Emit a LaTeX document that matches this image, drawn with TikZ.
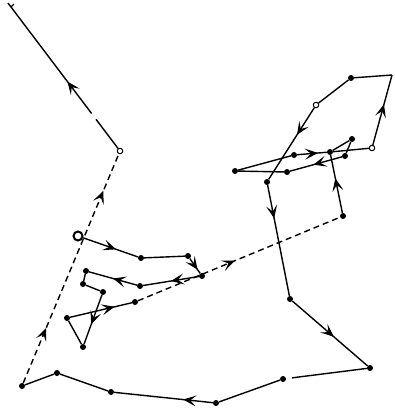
\documentclass[tikz,border=0pt]{standalone}
\usetikzlibrary{arrows.meta,decorations.markings,calc}
\tikzset{
  dot/.style={circle,fill=black,inner sep=0pt,minimum size=6pt},
  odot/.style={circle,draw=black,fill=white,line width=1pt,inner sep=0pt,minimum size=5.5pt},
  bigodot/.style={circle,draw=black,fill=white,line width=2pt,inner sep=0pt,minimum size=9pt},
  seg/.style={line width=1.4pt},
  jump/.style={line width=1.4pt,dash pattern=on 6pt off 4pt},
  tip/.tip={Stealth[length=13pt,width=11pt,inset=6pt]},
  midarrow/.style={postaction={decorate},decoration={markings,mark=at position #1 with {\arrow[line width=1pt]{tip}}}},
  midarrow/.default=0.5,
  twoarrows/.style 2 args={postaction={decorate},decoration={markings,
     mark=at position #1 with {\arrow[line width=1pt]{tip}},
     mark=at position #2 with {\arrow[line width=1pt]{tip}}}},
}
\begin{document}
\begin{tikzpicture}[x=1pt,y=-1pt]
\useasboundingbox (0,0) rectangle (394,410);
% nodes
\node[bigodot] (s) at (78,236) {};
\node[dot] (a1) at (141,258) {};
\node[dot] (a2) at (188,256) {};
\node[dot] (a3) at (202,276) {};
\node[dot] (a4) at (140,286) {};
\node[dot] (a5) at (86,271) {};
\node[dot] (a6) at (83,284) {};
\node[dot] (a7) at (103,292) {};
\node[dot] (a8) at (83,347) {};
\node[dot] (a9) at (67,318) {};
\node[dot] (a10) at (135,302) {};
\node[dot] (b1) at (343,216) {};
\node[dot] (b2) at (330,152) {};
\node[dot] (b3) at (352,139) {};
\node[dot] (b4) at (345,156) {};
\node[dot] (b5) at (287,172) {};
\node[dot] (b6) at (235,171) {};
\node[dot] (b7) at (294,155) {};
\node[odot] (b8) at (372,148) {};
\coordinate (b9) at (392,75);
\node[dot] (b10) at (351,78) {};
\node[odot] (b11) at (316,105) {};
\node[dot] (b12) at (267,182) {};
\node[dot] (c1) at (290,299) {};
\node[dot] (c2) at (370,368) {};
\node[dot] (c3) at (283,379) {};
\node[dot] (c4) at (216,403) {};
\node[dot] (c5) at (111,392) {};
\node[dot] (c6) at (57,373) {};
\node[dot] (c7) at (22,386) {};
\node[odot] (d1) at (120,151) {};
\coordinate (e) at (11,7);
% left loop
\draw[seg,midarrow=0.6] (s) -- (a1);
\draw[seg] (a1) -- (a2);
\draw[seg,midarrow=0.75] (a2) -- (a3);
\draw[seg,midarrow=0.5] (a3) -- (a4);
\draw[seg,midarrow=0.5] (a4) -- (a5);
\draw[seg] (a5) -- (a6);
\draw[seg] (a6) -- (a7);
\draw[seg,midarrow=0.6] (a7) -- (a8);
\draw[seg] (a8) -- (a9);
\draw[seg,midarrow=0.72] (a9) -- (a10);
\draw[jump,midarrow=0.48] (a10) -- (b1);
% right tangle
\draw[seg,midarrow=0.6] (b1) -- (b2);
\draw[seg] (b2) -- (b3);
\draw[seg] (b3) -- (b4);
\draw[seg,midarrow=0.55] (b4) -- (b5);
\draw[seg] (b5) -- (b6);
\draw[seg] (b6) -- (b7);
\draw[seg,midarrow=0.7] (b7) -- (b2);
\draw[seg] (b2) -- (b8);
\draw[seg,midarrow=0.58] (b8) -- (b9);
\draw[seg] (b9) -- (b10);
\draw[seg] (b10) -- (b11);
\draw[seg,midarrow=0.38] (b11) -- (b12);
\draw[seg,midarrow=0.3] (b12) -- (c1);
\draw[seg,midarrow=0.55] (c1) -- (c2);
\draw[seg] (c2) -- ($(c3)!9pt!(c2)$);
\draw[seg] (c3) -- (c4);
\draw[seg,midarrow=0.3] (c4) -- (c5);
\draw[seg] (c5) -- (c6);
\draw[seg] (c6) -- (c7);
\draw[jump,twoarrows={0.24}{0.84}] (c7) -- (d1);
\draw[seg] (d1) -- ($(d1)!0.22!(e)$);
\draw[seg,midarrow=0.3] ($(d1)!0.26!(e)$) -- (e);
\draw[seg] (e) -- +(-3,-4);
\draw[seg] (e) -- +(3,-3);
\end{tikzpicture}
\end{document}
